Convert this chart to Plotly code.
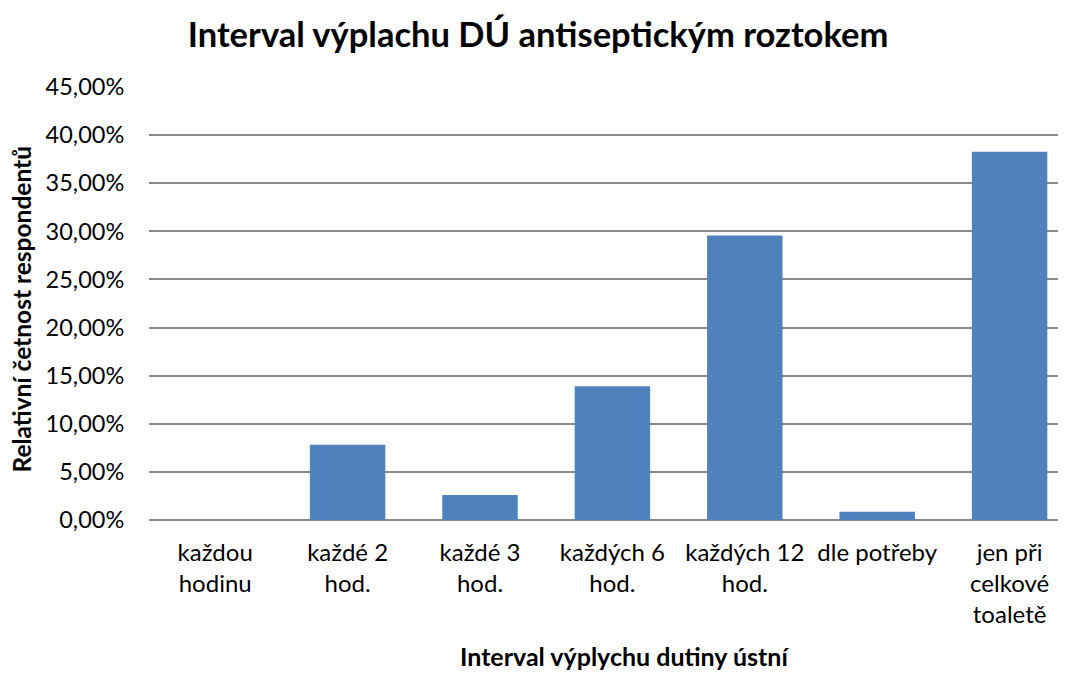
import plotly.graph_objects as go

categories = ["každou<br>hodinu", "každé 2<br>hod.", "každé 3<br>hod.", "každých 6<br>hod.",
              "každých 12<br>hod.", "dle potřeby", "jen při<br>celkové<br>toaletě"]
values = [0.0, 0.0783, 0.0261, 0.1391, 0.2957, 0.0087, 0.3826]
tick_vals = [0, 0.05, 0.10, 0.15, 0.20, 0.25, 0.30, 0.35, 0.40, 0.45]

FONT = "Lato, 'Open Sans', 'Liberation Sans', sans-serif"

# page body has an 8px margin, so the figure is 8px smaller and shifted
W, H = 1058, 665
L, T, B = 141, 79, 153

fig = go.Figure(go.Bar(x=list(range(len(categories))), y=values, marker_color="#4F81BD",
                       marker_line_width=0, width=0.57))

fig.update_layout(
    width=W, height=H,
    margin=dict(l=L, r=0, t=T, b=B),
    paper_bgcolor="white", plot_bgcolor="white",
    separators=", ",
    font=dict(family=FONT, color="black", size=23),
    showlegend=False,
    title=dict(text="<b>Interval výplachu DÚ antiseptickým roztokem</b>",
               x=(538 - 8) / W, xanchor="center", y=1 - 27 / H, yanchor="middle",
               font=dict(size=34.5, family=FONT)),
    annotations=[
        dict(text="<b>Interval výplychu dutiny ústní</b>", xref="paper", yref="paper",
             x=0, y=0, xanchor="center", yanchor="middle", xshift=624 - 8 - L, yshift=-136,
             showarrow=False, font=dict(size=25)),
        dict(text="<b>Relativní četnost respondentů</b>", xref="paper", yref="paper",
             x=0, y=0.5, xanchor="center", yanchor="middle", xshift=21 - 149, yshift=-6,
             textangle=-90, showarrow=False, font=dict(size=24.5)),
    ],
)
fig.update_xaxes(
    tickmode="array", tickvals=list(range(len(categories))), ticktext=categories,
    range=[-0.5, -0.5 + (W - L) / 132.4],
    showgrid=False, showline=False, zeroline=False,
    ticks="outside", ticklen=0, ticklabelstandoff=11,
    tickfont=dict(size=24),
)
fig.update_yaxes(
    range=[0, 0.45], tickvals=tick_vals, tickformat=".2%",
    showgrid=True, gridcolor="#8a8a8a", gridwidth=1.5,
    zeroline=True, zerolinecolor="#8a8a8a", zerolinewidth=1.5,
    showline=False, ticks="outside", ticklen=0, ticklabelstandoff=19,
    tickfont=dict(size=23.5),
)

fig.write_html("out.html")
